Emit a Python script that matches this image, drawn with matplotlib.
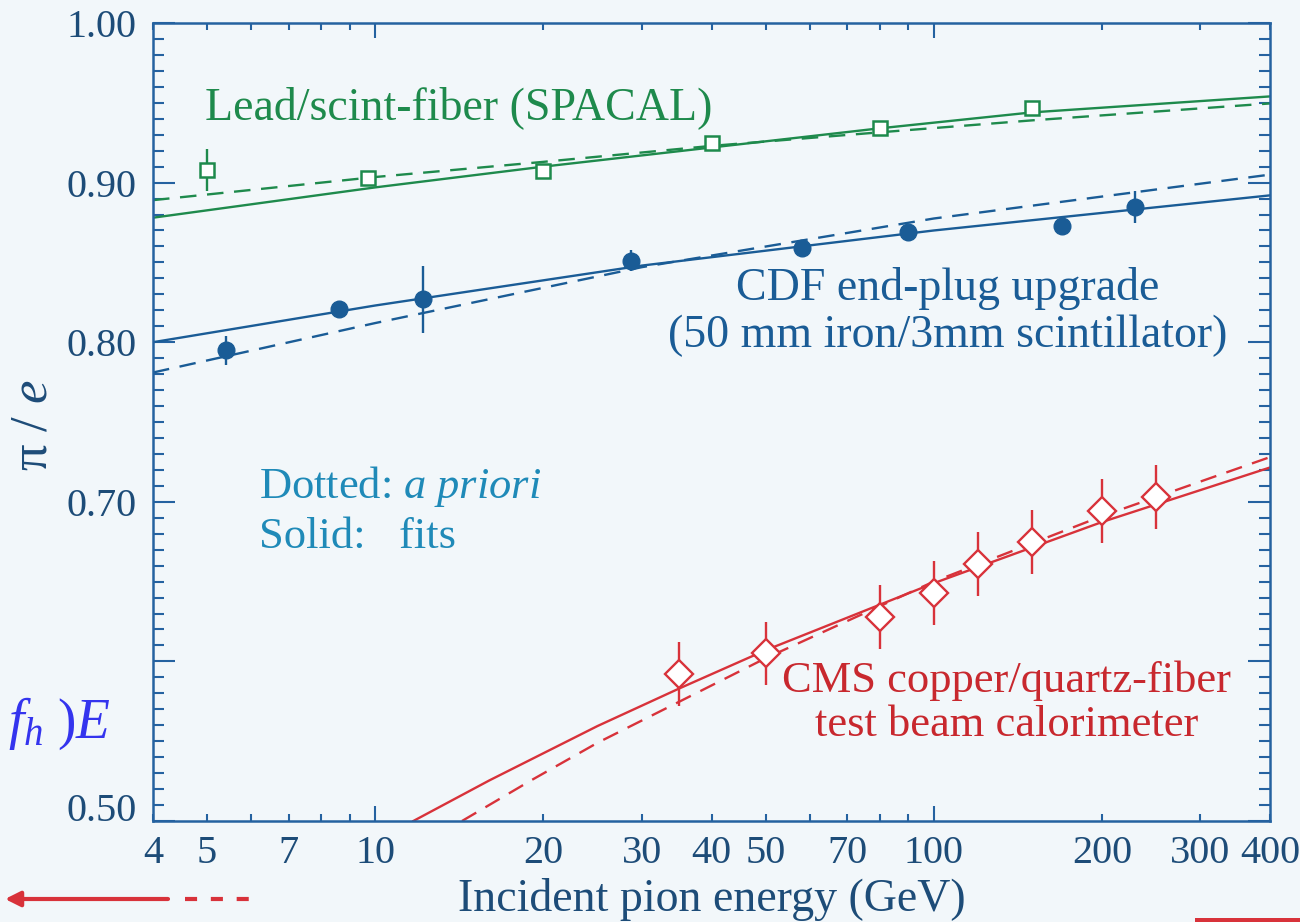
import numpy as np
import matplotlib.pyplot as plt
from matplotlib.ticker import FixedLocator, FuncFormatter
from matplotlib.lines import Line2D
from matplotlib.patches import Rectangle

plt.rcParams.update({
    "font.family": "serif",
    "font.serif": ["Liberation Serif", "DejaVu Serif"],
    "mathtext.fontset": "custom",
    "mathtext.rm": "Liberation Serif",
    "mathtext.it": "Liberation Serif:italic",
    "mathtext.bf": "Liberation Serif:bold",
})

BG = "#f2f7fa"
AXIS = "#2562a0"
TICKTXT = "#1d4c78"
GREEN = "#1e8a4c"
BLUE = "#1a5c96"
RED = "#d8323a"

# ---------- data: pi/e vs incident pion energy ----------
# lead / scint-fiber (SPACAL)
spacal_E = [5, 9.7, 20, 40, 80, 150]
spacal_pe = [0.908, 0.903, 0.907, 0.925, 0.934, 0.947]
spacal_err = [0.013, 0, 0, 0, 0, 0]
spacal_curve_E = [4, 10, 20, 40, 80, 150, 400]
spacal_fit = [0.878, 0.897, 0.910, 0.922, 0.934, 0.944, 0.954]
spacal_apriori = [0.889, 0.9035, 0.913, 0.923, 0.9315, 0.939, 0.9496]

# CDF end-plug upgrade (iron/scintillator)
cdf_E = [5.4, 8.6, 12.2, 28.7, 58, 90, 170, 229]
cdf_pe = [0.795, 0.821, 0.827, 0.851, 0.859, 0.869, 0.873, 0.885]
cdf_err = [0.009, 0.003, 0.021, 0.0065, 0.004, 0.004, 0.005, 0.01]
cdf_curve_E = [4, 10, 30, 100, 400]
cdf_fit = [0.800, 0.823, 0.848, 0.870, 0.892]
cdf_apriori = [0.781, 0.812, 0.847, 0.8775, 0.905]

# CMS copper/quartz-fiber test beam
cms_E = [35, 50, 80, 100, 120, 150, 200, 250]
cms_pe = [0.592, 0.605, 0.628, 0.643, 0.661, 0.675, 0.694, 0.703]
cms_err = [0.02, 0.02, 0.02, 0.02, 0.02, 0.02, 0.02, 0.02]
cms_fit_E = [11.7, 16, 25, 35, 50, 100, 200, 400]
cms_fit = [0.500, 0.5254, 0.5595, 0.583, 0.607, 0.649, 0.6873, 0.7215]
cms_apriori_E = [14.3, 19, 25, 35, 50, 100, 200, 400]
cms_apriori = [0.500, 0.5254, 0.549, 0.5747, 0.602, 0.650, 0.691, 0.728]

x_labeled = [4, 5, 7, 20, 30, 40, 50, 70, 200, 300, 400]
x_minor = [4, 5, 6, 7, 8, 9, 20, 30, 40, 50, 60, 70, 80, 90, 200, 300, 400]
y_major = [0.5, 0.6, 0.7, 0.8, 0.9, 1.0]
y_hidden = [0.6]

W, H = 1300, 922
fig = plt.figure(figsize=(13, 9.22), dpi=100, facecolor=BG)
ax = fig.add_axes([153 / W, 1 - 821 / H, 1117 / W, 798 / H], facecolor=BG)

dash = (0, (7, 4.5))
lw = 1.7

# curves
ax.plot(spacal_curve_E, spacal_fit, color=GREEN, lw=lw, zorder=2)
ax.plot(spacal_curve_E, spacal_apriori, color=GREEN, lw=lw, ls=dash, zorder=2)
ax.plot(cdf_curve_E, cdf_fit, color=BLUE, lw=lw, zorder=2)
ax.plot(cdf_curve_E, cdf_apriori, color=BLUE, lw=lw, ls=dash, zorder=2)
ax.plot(cms_fit_E, cms_fit, color=RED, lw=lw, zorder=2)
ax.plot(cms_apriori_E, cms_apriori, color=RED, lw=lw, ls=dash, zorder=2)

# data points
ax.errorbar(spacal_E, spacal_pe, yerr=spacal_err, fmt="s", ms=10,
            mfc="white", mec=GREEN, mew=1.8, ecolor=GREEN, elinewidth=1.7,
            capsize=0, zorder=4)
ax.errorbar(cdf_E, cdf_pe, yerr=cdf_err, fmt="o", ms=12, mfc=BLUE, mec=BLUE,
            ecolor=BLUE, elinewidth=1.7, capsize=0, zorder=4)
ax.errorbar(cms_E, cms_pe, yerr=cms_err, fmt="D", ms=14, mfc="white",
            mec=RED, mew=1.7, ecolor=RED, elinewidth=1.7, capsize=0, zorder=4)

# axes
ax.set_xscale("log")
ax.set_xlim(4, 400)
ax.set_ylim(0.5, 1.0)

ax.xaxis.set_major_locator(FixedLocator([10, 100]))
ax.xaxis.set_major_formatter(FuncFormatter(lambda v, p: f"{v:g}"))
ax.xaxis.set_minor_locator(FixedLocator(x_minor))
ax.xaxis.set_minor_formatter(
    FuncFormatter(lambda v, p: f"{v:g}" if round(v) in x_labeled else ""))

ax.yaxis.set_major_locator(FixedLocator(y_major))
ax.yaxis.set_major_formatter(
    FuncFormatter(lambda v, p: "" if any(abs(v - h) < 1e-6 for h in y_hidden)
                  else f"{v:.2f}"))
ax.yaxis.set_minor_locator(FixedLocator(np.arange(0.5, 1.0001, 0.01)))

ax.tick_params(axis="both", which="both", direction="in", color=AXIS,
               width=1.5, labelcolor=TICKTXT, labelsize=29)
ax.tick_params(axis="x", which="major", length=10.8, top=True, pad=10)
ax.tick_params(axis="x", which="minor", length=5, top=True, pad=10)
ax.tick_params(axis="y", which="major", length=15.8, right=True, pad=12)
ax.tick_params(axis="y", which="minor", length=7.9, right=True)
for s in ax.spines.values():
    s.set_color(AXIS)
    s.set_linewidth(1.8)

# lift the bottom label off the x axis
ax.yaxis.get_major_ticks()[0].label1.set_va("baseline")

ax.set_xlabel("Incident pion energy (GeV)", fontsize=33, color=TICKTXT,
              va="baseline")
ax.xaxis.set_label_coords(0.5, -0.1128)
ax.set_ylabel("π / $e$", fontsize=38, color=TICKTXT, va="center")
ax.yaxis.set_label_coords(-0.1074, 0.496)

# annotations
ax.text(4.95, 0.9398, "Lead/scint-fiber (SPACAL)", color=GREEN,
        fontsize=33, va="baseline", ha="left")
ax.text(106, 0.8264, "CDF end-plug upgrade", color=BLUE, fontsize=33,
        va="baseline", ha="center")
ax.text(106, 0.797, "(50 mm iron/3mm scintillator)", color=BLUE,
        fontsize=33, va="baseline", ha="center")
ax.text(6.19, 0.7024, r"Dotted: $a\ priori$", color="#1f8ab8", fontsize=32,
        va="baseline", ha="left")
ax.text(6.19, 0.6711, "Solid:   fits", color="#1f8ab8", fontsize=32,
        va="baseline", ha="left")
ax.text(135, 0.581, "CMS copper/quartz-fiber", color="#c8282e", fontsize=32,
        va="baseline", ha="center")
ax.text(135, 0.5534, "test beam calorimeter", color="#c8282e", fontsize=32,
        va="baseline", ha="center")

# slide leftovers around the plot
fig.text(8 / W, 1 - 724 / H, r"$f_h\ )E$", color="#3434ee", fontsize=40,
         va="center", ha="left")
ax.annotate("", xy=(5 / W, 1 - 899 / H), xycoords="figure fraction",
            xytext=(168 / W, 1 - 899 / H), textcoords="figure fraction",
            arrowprops=dict(arrowstyle="-|>,head_length=0.9,head_width=0.45",
                            color=RED, lw=3, shrinkA=0, shrinkB=0),
            annotation_clip=False)
fig.add_artist(Line2D([185 / W, 250 / W], [1 - 899 / H, 1 - 899 / H],
                      transform=fig.transFigure, color=RED, lw=3,
                      ls=(0, (2.9, 3.3))))
fig.add_artist(Rectangle((1195 / W, 0), 105 / W, 4 / H,
                         transform=fig.transFigure, color=RED, lw=0))

fig.savefig("out.png", dpi=100, facecolor=BG)
